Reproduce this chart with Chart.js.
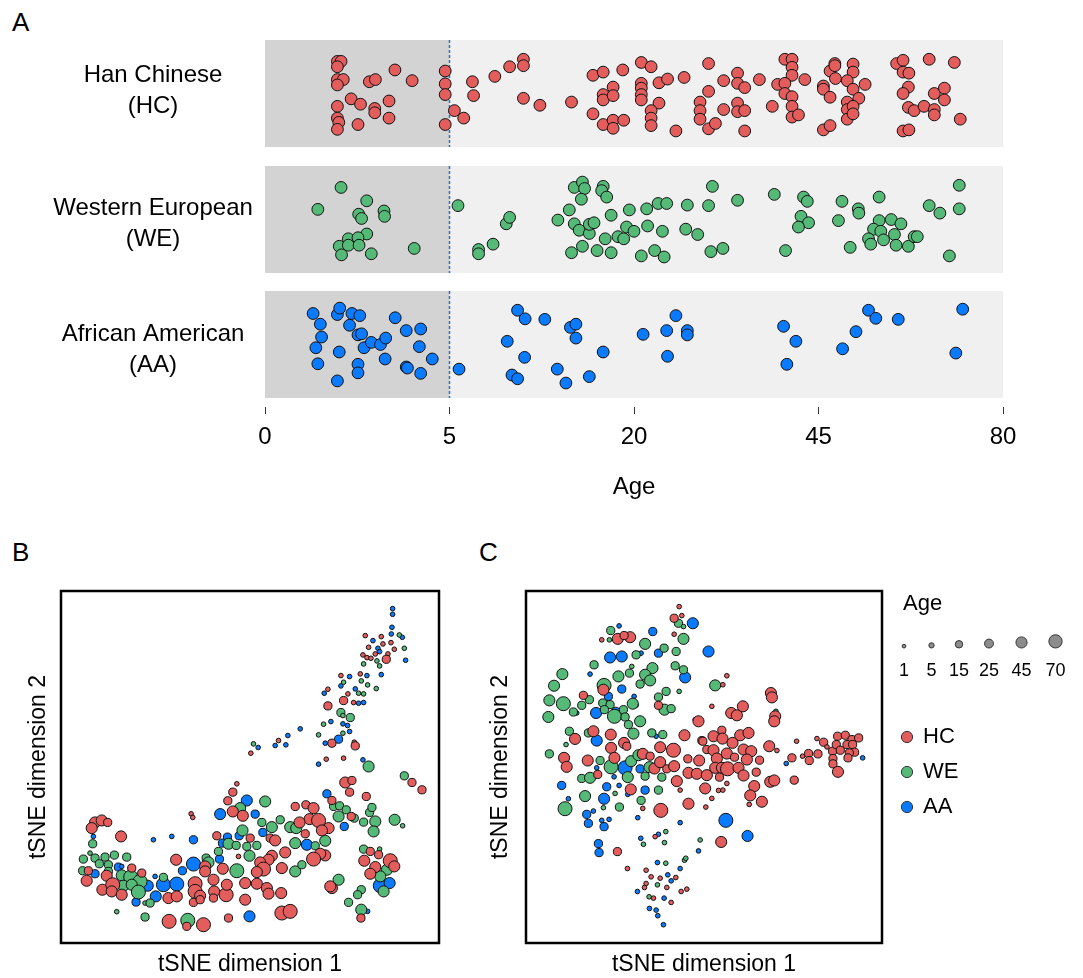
<!DOCTYPE html>
<html>
<head>
<meta charset="utf-8">
<script src="https://cdn.jsdelivr.net/npm/chart.js@4.4.0/dist/chart.umd.min.js"></script>
<style>
  body { margin: 0; background: #fff; width: 1083px; height: 978px; position: relative; overflow: hidden;
         font-family: "Liberation Sans", Arial, Helvetica, sans-serif; }
  .letter { position: absolute; font-size: 26px; line-height: 1; color: #000; }
  canvas { position: absolute; }
</style>
</head>
<body>
<div class="letter" style="left:12px;top:9px">A</div>
<div class="letter" style="left:12px;top:539px">B</div>
<div class="letter" style="left:479px;top:539px">C</div>
<canvas id="stripChart" width="1083" height="520" style="left:0;top:0"></canvas>
<canvas id="tsneB" width="460" height="418" style="left:0;top:560px"></canvas>
<canvas id="tsneC" width="613" height="418" style="left:470px;top:560px"></canvas>
<script>
const FONT = '"Liberation Sans", Arial, Helvetica, sans-serif';
const COLORS = { HC: '#E35D5D', WE: '#55BA78', AA: '#0A7AFF' };

// panel A: [age, vertical jitter within the row 0..1]
const ageTicks = [0, 5, 20, 45, 80];
const rowNames = [['Han Chinese', '(HC)'], ['Western European', '(WE)'], ['African American', '(AA)']];
const hcStrip = [
  [0.77,0.80],[0.85,0.80],[0.77,0.75],[0.77,0.63],[0.90,0.63],[0.77,0.58],[0.77,0.38],[0.77,0.27],[0.80,0.23],[0.77,0.165],
  [1.60,0.61],[1.79,0.63],[2.48,0.72],[3.18,0.62],[1.09,0.45],[1.34,0.40],[1.77,0.36],[1.77,0.32],[2.26,0.43],[2.26,0.27],[1.27,0.21],
  [4.77,0.71],[4.77,0.59],[4.77,0.49],[4.77,0.21],[5.27,0.34],[5.80,0.27],[6.32,0.61],[6.39,0.48],[7.76,0.66],[8.79,0.75],[9.81,0.82],[9.81,0.76],[9.81,0.455],[11.1,0.39],
  [13.8,0.42],[15.8,0.67],[16.8,0.70],[18.8,0.72],[17.8,0.56],[16.8,0.49],[16.8,0.44],[17.8,0.48],[15.8,0.31],[16.8,0.21],[17.8,0.25],[17.8,0.175],[18.9,0.25],
  [20.8,0.79],[21.9,0.75],[20.8,0.595],[20.8,0.55],[20.8,0.49],[20.8,0.44],[22.8,0.60],[23.8,0.635],[25.8,0.65],[22.8,0.41],[21.9,0.34],[21.9,0.27],[21.9,0.20],[24.8,0.15],
  [28.9,0.78],[28.9,0.52],[27.8,0.42],[27.8,0.34],[27.8,0.26],[28.9,0.17],[29.8,0.22],[30.9,0.62],[30.9,0.35],[32.8,0.69],[32.8,0.595],[33.8,0.555],[32.8,0.41],[32.8,0.33],[33.8,0.34],[33.8,0.15],
  [35.9,0.63],[37.8,0.38],[38.6,0.585],[39.7,0.82],[40.8,0.82],[40.8,0.745],[40.8,0.67],[39.7,0.595],[39.7,0.50],[40.8,0.47],[40.8,0.38],[40.8,0.28],[41.8,0.30],[42.8,0.63],
  [45.8,0.57],[45.8,0.54],[46.9,0.71],[46.9,0.465],[47.7,0.78],[47.7,0.76],[47.8,0.64],[45.8,0.16],[46.9,0.20],
  [50.8,0.775],[50.8,0.70],[49.8,0.62],[50.8,0.54],[52.9,0.585],[51.8,0.455],[49.8,0.42],[49.8,0.35],[49.8,0.26],[50.8,0.38],[50.8,0.31],
  [58.6,0.78],[59.8,0.81],[59.8,0.70],[60.9,0.69],[60.8,0.56],[59.8,0.50],[64.8,0.82],[69.8,0.79],[65.8,0.50],[67.8,0.55],[67.8,0.44],
  [60.8,0.37],[61.9,0.34],[63.8,0.38],[65.8,0.35],[65.8,0.30],[71.0,0.26],[59.8,0.15],[60.9,0.16]
];
const weStrip = [
  [0.85,0.80],[0.41,0.595],[1.52,0.675],[1.29,0.55],[1.37,0.51],[2.08,0.58],[2.10,0.53],[1.52,0.365],[1.02,0.32],[1.27,0.33],
  [0.81,0.25],[1.02,0.26],[1.30,0.26],[0.86,0.17],[1.66,0.18],[3.27,0.23],
  [5.47,0.63],[8.55,0.46],[8.79,0.52],[6.70,0.22],[6.70,0.18],[7.64,0.27],
  [12.6,0.495],[13.6,0.59],[14.05,0.80],[14.8,0.85],[15.0,0.79],[14.7,0.69],[14.05,0.46],[14.5,0.40],[15.45,0.37],[15.45,0.455],[15.9,0.47],
  [16.8,0.81],[16.65,0.77],[17.15,0.71],[17.6,0.54],[13.8,0.19],[14.8,0.25],[16.2,0.21],[17.6,0.19],[17.0,0.32],[18.3,0.34],[18.9,0.32],
  [19.2,0.43],[20.0,0.39],[19.5,0.59],[21.4,0.60],[22.7,0.65],[23.7,0.65],[21.5,0.44],[23.2,0.39],[20.8,0.16],[22.3,0.21],[23.4,0.15],
  [26.2,0.635],[28.9,0.63],[29.4,0.81],[32.8,0.68],[26.0,0.41],[27.5,0.36],[29.2,0.20],[30.8,0.23],
  [38.1,0.735],[39.8,0.21],[42.6,0.71],[43.2,0.67],[42.2,0.53],[43.4,0.47],[41.8,0.43],
  [48.9,0.67],[48.3,0.49],[51.7,0.60],[51.8,0.56],[55.4,0.71],[50.3,0.24],
  [55.4,0.49],[54.4,0.41],[57.6,0.50],[59.4,0.46],[55.7,0.39],[58.2,0.36],[53.5,0.32],[56.2,0.31],[53.9,0.27],[58.5,0.26],[60.8,0.25],[61.9,0.34],[62.5,0.34],
  [64.8,0.63],[66.9,0.56],[70.8,0.82],[70.8,0.60],[68.8,0.16]
];
const aaStrip = [
  [0.34,0.79],[0.45,0.69],[0.47,0.57],[0.38,0.47],[0.41,0.32],[0.77,0.78],[0.82,0.84],[1.11,0.79],[1.32,0.77],[1.05,0.68],
  [1.27,0.59],[1.37,0.60],[0.81,0.43],[1.44,0.47],[1.66,0.52],[1.96,0.50],[2.14,0.56],[2.49,0.75],[2.93,0.63],[3.56,0.645],
  [2.12,0.365],[1.27,0.315],[1.27,0.235],[0.77,0.16],[2.93,0.29],[2.98,0.28],[3.50,0.48],[4.11,0.365],[3.56,0.23],
  [5.53,0.27],[9.37,0.82],[9.94,0.74],[8.62,0.53],[9.90,0.38],[8.96,0.215],[9.37,0.18],
  [11.5,0.735],[13.7,0.66],[14.2,0.69],[14.2,0.56],[16.8,0.43],[12.55,0.27],[13.3,0.14],[15.45,0.20],
  [21.0,0.595],[23.7,0.63],[24.8,0.77],[26.2,0.63],[26.2,0.59],[23.8,0.39],
  [39.5,0.67],[41.4,0.53],[40.0,0.315],[49.0,0.46],[51.3,0.62],[53.5,0.82],[54.8,0.745],[58.9,0.735],[70.1,0.42],[71.5,0.83]
];

// panels B and C: [tSNE1, tSNE2, age]
const tsneB_HC = [
  [57.2,57.0,3],[53.0,47.8,3],[51.8,45.3,20],[50.3,42.7,20],[51.8,39.5,45],[54.8,38.2,45],[39.3,38.8,3],[39.8,37.7,3],[10.5,36.2,45],[12.5,36.8,45],
  [14.3,36.2,20],[9.5,34.5,45],[18.3,32.0,45],[47.0,32.2,20],[53.5,26.0,3],[34.8,25.0,45],[48.8,22.3,45],[8.5,21.7,20],[14.0,20.2,45],[21.5,22.5,20],
  [8.0,18.7,45],[24.5,21.0,20],[43.5,23.0,45],[43.5,21.5,45],[12.7,16.0,45],[15.8,17.5,80],[15.5,15.5,45],[18.5,14.5,45],[40.5,17.8,80],[40.5,15.5,80],
  [42.0,14.2,45],[46.0,19.0,45],[46.2,15.5,45],[49.8,14.5,80],[50.0,17.5,45],[55.5,18.0,45],[59.0,17.8,45],[32.5,13.5,45],[35.0,14.0,45],[40.0,12.2,20],
  [42.0,13.0,20],[46.0,13.5,20],[55.5,13.0,45],[32.7,6.5,80],[38.0,5.0,20],[43.0,5.5,80],[50.5,7.5,20],
  [91.5,92.3,3],[96.3,92.0,3],[99.2,90.2,3],[96.8,89.8,3],[92.5,88.8,3],[100.2,88.2,3],[90.8,86.5,3],[92.0,85.7,3],[93.2,85.5,3],[94.5,86.8,3],
  [98.3,86.8,3],[97.8,85.2,20],[84.2,80.3,3],[90.0,80.8,3],[80.3,76.2,3],[86.3,74.8,3],[85.0,72.8,20],[88.0,72.2,3],[80.3,71.2,20],[65.5,60.8,3],
  [81.5,60.0,20],[88.2,60.3,3],[88.5,59.2,20],[79.8,55.2,3],[85.0,55.5,3],[85.5,48.2,45],[87.5,48.8,20],[86.8,45.3,20],[105.5,48.2,20],[108.5,46.0,20],
  [91.8,44.0,20],[70.5,41.0,20],[73.7,41.5,20],[76.0,40.5,45],[74.8,37.2,45],[77.5,36.8,80],[71.8,36.2,45],[80.5,34.5,45],[78.5,33.8,45],[81.5,42.8,20],
  [87.3,38.0,20],[57.0,31.5,20],[63.0,31.5,20],[64.5,30.8,45],[79.5,26.3,45],[78.0,26.8,45],[76.0,25.2,80],[73.5,32.8,20],[67.5,27.2,45],[63.5,26.2,45],
  [62.5,25.0,45],[60.0,24.2,45],[61.0,22.2,80],[66.5,22.5,45],[59.0,21.3,45],[62.0,16.5,45],[62.5,14.8,45],[66.3,15.0,45],[93.0,27.5,20],[91.2,24.7,45],
  [95.5,26.5,20],[99.0,24.7,80],[100.2,23.0,45],[94.5,22.8,45],[93.0,20.8,45],[81.5,16.5,45],[81.0,17.0,45],[90.2,7.5,20],[66.5,9.0,80],[69.0,9.5,80]
];
const tsneB_WE = [
  [58.0,59.8,3],[54.0,40.5,45],[9.8,29.8,20],[50.5,29.8,45],[52.8,29.3,20],[54.7,33.8,45],[56.0,29.0,20],[59.0,29.3,20],[47.5,27.5,20],[56.8,26.2,45],
  [43.8,25.5,20],[44.5,24.2,45],[7.0,25.2,20],[9.0,27.0,3],[10.5,25.5,20],[13.5,25.8,20],[16.3,26.4,20],[20.0,25.8,20],[11.8,23.8,20],[14.5,23.5,20],
  [6.8,21.7,20],[14.5,21.5,20],[18.5,20.3,45],[21.2,19.8,80],[24.0,18.5,80],[31.0,19.7,20],[19.0,17.2,45],[21.5,17.5,45],[23.5,15.3,80],[53.0,21.7,80],
  [25.5,12.0,3],[27.0,12.0,20],[17.0,9.4,3],[25.5,7.8,20],[38.3,6.8,80],
  [101.7,92.5,3],[103.2,88.5,3],[95.0,84.7,3],[95.8,83.2,3],[91.0,83.8,3],[85.0,78.3,3],[90.3,78.7,3],[92.2,77.5,3],[94.8,76.4,3],[89.5,75.0,3],
  [91.0,74.8,3],[84.2,69.2,20],[84.8,68.3,3],[87.0,67.7,20],[79.0,65.7,3],[84.8,63.0,3],[77.5,62.5,3],[92.5,53.0,45],[103.2,50.2,20],[61.5,42.5,45],
  [60.5,36.2,20],[63.5,34.8,45],[66.0,37.0,20],[69.0,34.8,45],[70.8,34.5,45],[82.0,41.0,20],[83.8,41.2,20],[85.8,40.0,20],[83.5,38.0,45],[88.2,37.5,20],
  [91.0,36.3,20],[94.5,36.5,45],[92.8,39.2,20],[93.5,40.7,20],[100.3,37.0,45],[102.7,35.2,3],[94.0,33.5,45],[70.5,30.0,45],[76.5,29.2,20],[79.5,30.7,45],
  [70.5,21.5,45],[72.5,23.5,20],[91.0,28.2,20],[95.8,28.2,3],[98.0,22.0,45],[96.0,20.0,45],[97.0,15.5,45],[83.5,19.0,45],[90.3,16.0,20],[89.2,14.5,20],
  [86.5,12.2,20],[90.3,10.0,45]
];
const tsneB_AA = [
  [59.4,58.7,3],[56.0,42.8,45],[48.0,38.7,45],[58.5,38.7,20],[10.0,32.0,3],[28.0,31.0,3],[33.5,32.0,3],[40.0,31.0,20],[50.2,31.8,20],[48.7,30.0,20],
  [53.7,32.2,20],[47.8,25.2,20],[40.0,23.7,80],[10.5,20.8,20],[17.5,22.8,20],[18.5,23.0,3],[28.5,20.0,3],[36.7,21.7,20],[26.3,17.2,45],[31.0,17.5,80],
  [35.0,17.7,80],[22.8,12.3,20],[28.7,14.0,45],[56.8,8.0,45],
  [99.7,100.4,3],[99.7,98.7,3],[99.5,94.8,3],[99.3,92.8,3],[102.6,91.8,3],[93.8,90.8,3],[95.3,88.5,3],[95.8,87.5,3],[103.6,84.9,3],[86.8,80.0,3],
  [92.0,80.3,3],[96.3,80.6,3],[84.2,77.2,3],[79.2,75.0,3],[88.5,76.3,3],[89.5,72.0,3],[91.0,72.2,3],[81.2,66.5,3],[84.8,65.8,3],[86.2,65.3,3],
  [86.8,63.5,3],[72.0,64.3,3],[68.3,62.3,3],[64.5,59.3,3],[67.7,59.5,3],[83.5,61.2,20],[79.5,60.0,3],[77.5,53.7,3],[90.8,55.0,3],[80.0,44.8,20],
  [60.8,33.2,20],[85.2,35.0,20],[74.0,29.5,45],[96.0,17.2,80],[98.8,18.0,45],[92.2,9.5,3]
];
const tsneC_HC = [
  [47.7,101.5,3],[46.2,98.0,20],[48.5,98.8,3],[24.5,91.5,3],[29.3,91.8,45],[33.0,92.3,45],[31.2,92.8,20],[46.2,93.2,3],[25.0,76.5,45],[19.0,74.8,20],
  [41.5,71.8,20],[53.5,67.0,45],[16.5,61.7,45],[22.0,64.0,45],[27.2,63.0,45],[31.2,60.5,45],[49.3,62.8,45],[54.5,61.2,20],[27.3,59.0,45],[32.0,59.5,20],
  [42.0,59.2,45],[46.0,58.3,80],[56.0,58.5,20],[13.2,56.0,45],[14.0,53.3,45],[20.3,55.2,45],[28.3,56.0,45],[36.8,57.2,45],[39.0,56.5,20],[40.3,52.8,45],
  [42.0,54.7,45],[44.0,52.7,20],[46.2,53.5,45],[50.3,55.7,20],[53.7,55.2,45],[50.5,51.5,45],[53.0,51.2,45],[56.0,50.8,45],[23.3,51.0,20],[47.0,49.0,45],
  [33.2,46.5,45],[48.0,46.3,3],[55.5,46.8,45],[36.8,40.8,3],[42.2,40.2,80],[50.5,42.2,45],[55.7,41.2,3],[29.2,27.8,20],[40.5,32.3,3],[32.2,22.7,3],
  [37.8,22.2,3],[39.3,20.2,3],[42.0,19.8,3],[46.7,20.0,3],[37.8,18.2,3],[44.0,17.0,3],[37.3,17.0,3],[48.3,15.8,3],[50.0,16.5,3],[40.0,13.8,3],[45.3,12.5,3],
  [62.0,80.7,3],[60.8,78.0,3],[75.2,75.5,45],[75.5,74.2,45],[57.5,71.5,3],[63.3,69.5,45],[65.0,68.8,45],[66.8,71.5,45],[76.5,68.5,45],[76.2,67.0,45],
  [58.0,62.5,45],[60.5,64.3,20],[60.7,61.8,45],[54.8,61.0,20],[63.7,60.5,45],[66.0,62.8,45],[68.5,63.5,45],[58.0,58.3,45],[62.0,57.3,45],[59.0,55.8,45],
  [64.3,56.2,20],[67.0,58.5,45],[69.3,58.0,45],[68.0,55.5,45],[71.8,55.3,20],[74.7,59.5,45],[77.0,58.2,3],[58.5,53.0,45],[60.5,53.0,45],[62.2,52.7,80],
  [65.5,53.0,45],[67.0,50.7,45],[70.8,51.7,20],[59.8,50.2,20],[62.0,48.3,3],[70.2,47.5,45],[59.5,46.2,3],[60.8,46.3,3],[57.5,43.8,3],[69.0,44.7,45],
  [72.5,42.8,45],[68.7,42.0,3],[75.0,48.8,45],[76.2,49.2,45],[60.3,30.7,45],[81.5,56.0,20],[82.9,61.0,3],[82.2,49.3,20],[84.7,56.5,3],[86.5,57.3,20],
  [86.7,55.2,20],[89.3,57.2,20],[89.0,61.8,3],[91.0,60.7,20],[92.0,59.3,3],[93.7,58.0,20],[95.2,62.5,20],[97.5,62.8,20],[99.5,61.5,20],[101.5,62.0,20],
  [94.8,60.0,20],[96.0,58.3,20],[98.0,60.0,20],[99.7,60.0,20],[100.3,57.7,20],[98.7,57.5,20],[98.3,56.0,20],[93.8,55.8,20],[93.8,54.2,20],[95.3,51.8,45]
];
const tsneC_WE = [
  [47.5,96.5,20],[49.0,95.5,3],[27.2,94.3,20],[26.8,91.5,3],[49.0,91.8,45],[37.5,90.3,45],[43.2,89.0,20],[34.8,87.0,20],[46.8,88.0,20],[22.2,84.0,20],
  [33.5,83.5,3],[39.7,83.0,45],[46.5,83.7,20],[49.0,82.5,20],[12.7,81.2,45],[29.5,80.5,45],[32.8,81.5,20],[37.5,81.0,45],[39.0,79.3,45],[10.2,77.7,45],
  [25.2,77.8,80],[36.0,78.2,20],[43.8,76.0,20],[47.7,76.0,3],[41.5,74.3,20],[8.8,73.3,45],[13.0,72.3,80],[18.5,71.8,20],[20.8,73.5,20],[24.8,72.5,20],
  [27.0,72.0,20],[33.8,72.3,45],[43.3,70.5,45],[45.3,70.8,20],[8.5,68.3,45],[16.0,69.8,20],[25.3,70.5,20],[28.3,68.5,80],[31.0,70.5,20],[31.5,68.3,20],
  [32.5,66.0,20],[36.0,67.0,45],[52.5,67.5,3],[14.8,64.0,20],[20.5,63.5,20],[34.0,63.3,45],[39.5,63.5,20],[42.8,63.0,20],[13.8,60.0,3],[8.8,57.2,20],
  [24.0,55.2,20],[27.3,53.3,80],[33.3,55.0,45],[35.5,56.8,45],[38.8,53.2,45],[18.5,49.8,20],[21.0,50.0,45],[32.3,50.2,45],[37.5,50.5,20],[42.5,50.2,20],
  [19.5,44.5,45],[28.5,45.3,3],[41.5,46.3,20],[13.5,40.7,80],[25.0,41.0,3],[29.8,41.2,20],[36.3,43.2,20],[37.0,30.0,3],[43.7,33.8,3],[43.3,30.5,3],
  [54.0,31.3,3],[49.3,25.2,3],[49.7,25.8,3],[43.7,24.3,3],[41.2,17.8,3],[38.7,14.2,3],[58.5,77.8,45],[76.7,70.0,3]
];
const tsneC_AA = [
  [51.8,96.5,45],[29.7,95.7,3],[39.8,94.0,20],[36.3,87.5,3],[41.5,87.5,20],[27.0,86.2,45],[30.5,86.5,45],[56.5,88.0,45],[49.5,80.2,45],[21.0,81.2,3],
  [30.5,76.7,20],[26.5,74.5,20],[34.2,74.5,3],[34.8,71.8,3],[17.0,69.5,3],[22.8,69.5,45],[28.7,70.0,20],[40.8,62.5,3],[23.0,61.2,45],[31.5,53.0,80],
  [36.0,52.7,20],[23.0,53.0,3],[28.2,50.3,3],[12.5,47.7,20],[26.0,47.3,20],[29.7,47.7,3],[37.5,46.3,20],[25.2,43.7,45],[32.3,45.0,3],[14.5,43.7,3],
  [20.0,39.0,20],[22.0,40.0,3],[20.5,36.3,20],[24.5,37.2,3],[25.2,35.3,20],[26.7,37.5,3],[35.3,38.0,3],[48.0,36.5,3],[23.5,30.2,20],[23.7,27.5,20],
  [36.2,31.8,3],[41.5,33.0,3],[53.5,28.0,3],[41.2,24.5,3],[48.0,22.7,3],[44.3,20.8,3],[45.3,19.0,3],[35.2,15.8,3],[43.2,13.8,3],[38.8,10.7,3],
  [40.8,10.2,3],[41.3,8.5,3],[43.0,5.8,3],[61.7,37.2,80],[68.2,32.5,45],[79.8,54.3,3],[102.7,56.0,3]
];
const legendAges = [1, 5, 15, 25, 45, 70];
const groupNames = ['HC', 'WE', 'AA'];

const radiusForAge = age => 1.2 + 0.65 * Math.sqrt(age);

// ---- panel A ----
const rowBase = [2.346, 1.168, 0];   // bottom of each row band on the y scale
const stripPoints = (arr, row) => arr.map(([age, j]) => ({ x: Math.sqrt(age), y: rowBase[row] + j }));

const bandPlugin = {
  id: 'bands',
  beforeDatasetsDraw(chart) {
    const { ctx, scales: { x, y } } = chart;
    const x0 = x.getPixelForValue(0), x5 = x.getPixelForValue(Math.sqrt(5)), x80 = x.getPixelForValue(Math.sqrt(80));
    const labelY = [[75, 106], [208, 239], [334, 365]];
    ctx.save();
    rowBase.forEach((b, i) => {
      const top = y.getPixelForValue(b + 1), bot = y.getPixelForValue(b);
      ctx.fillStyle = '#F0F0F0';
      ctx.fillRect(x0, top, x80 - x0, bot - top);
      ctx.fillStyle = '#D3D3D3';
      ctx.fillRect(x0, top, x5 - x0, bot - top);
      ctx.strokeStyle = '#2F6DC0';
      ctx.lineWidth = 1.5;
      ctx.setLineDash([3, 2]);
      ctx.beginPath(); ctx.moveTo(x5, top); ctx.lineTo(x5, bot); ctx.stroke();
      ctx.setLineDash([]);
      ctx.fillStyle = '#000';
      ctx.font = '24px ' + FONT;
      ctx.textAlign = 'center';
      ctx.textBaseline = 'middle';
      ctx.fillText(rowNames[i][0], 153, labelY[i][0]);
      ctx.fillText(rowNames[i][1], 153, labelY[i][1]);
    });
    ctx.restore();
  }
};

new Chart(document.getElementById('stripChart'), {
  type: 'scatter',
  data: {
    datasets: [
      { label: 'HC', data: stripPoints(hcStrip, 0), backgroundColor: COLORS.HC },
      { label: 'WE', data: stripPoints(weStrip, 1), backgroundColor: COLORS.WE },
      { label: 'AA', data: stripPoints(aaStrip, 2), backgroundColor: COLORS.AA },
    ],
  },
  options: {
    responsive: false,
    animation: false,
    events: [],
    layout: { padding: { left: 265, right: 80, top: 40, bottom: 0 } },
    plugins: { legend: { display: false }, tooltip: { enabled: false } },
    elements: { point: { radius: 5.9, borderWidth: 1, borderColor: '#111' } },
    scales: {
      x: {
        type: 'linear', min: 0, max: Math.sqrt(80),
        afterBuildTicks: s => { s.ticks = ageTicks.map(a => ({ value: Math.sqrt(a) })); },
        afterFit: s => { s.height = 520 - 407; },
        ticks: { callback: v => Math.round(v * v), color: '#000', font: { family: FONT, size: 24 }, padding: 9, maxRotation: 0, autoSkip: false },
        grid: { drawOnChartArea: false, drawTicks: true, tickLength: 7, color: '#333', lineWidth: 1 },
        border: { display: false },
        title: { display: true, text: 'Age', color: '#000', font: { family: FONT, size: 24 }, padding: { top: 0, bottom: 18 } },
      },
      y: { display: false, min: -0.084, max: 3.346 },
    },
  },
  plugins: [bandPlugin],
});

// ---- panels B and C ----
const framePlugin = {
  id: 'frame',
  afterDatasetsDraw(chart) {
    const { ctx, chartArea: a } = chart;
    ctx.save();
    ctx.lineWidth = 2.5;
    ctx.strokeStyle = '#000';
    ctx.strokeRect(a.left, a.top, a.right - a.left, a.bottom - a.top);
    ctx.restore();
  }
};

const ageLegendPlugin = {
  id: 'ageLegend',
  afterDraw(chart) {
    const ctx = chart.ctx;
    const dotX = [434, 461.5, 489, 519, 551.5, 585.5];
    ctx.save();
    ctx.fillStyle = '#000';
    ctx.font = '22px ' + FONT;
    ctx.textAlign = 'left';
    ctx.textBaseline = 'middle';
    ctx.fillText('Age', 433, 44);
    legendAges.forEach((a, i) => {
      const r = radiusForAge(a);
      ctx.beginPath();
      ctx.arc(dotX[i], 88 - r, r, 0, Math.PI * 2);
      ctx.fillStyle = '#8C8C8C';
      ctx.fill();
      ctx.lineWidth = 1;
      ctx.strokeStyle = '#333';
      ctx.stroke();
      ctx.fillStyle = '#000';
      ctx.font = '18px ' + FONT;
      ctx.textAlign = 'center';
      ctx.fillText(String(a), dotX[i], 111);
    });
    groupNames.forEach((g, i) => {
      const cy = 177 + 35 * i;
      ctx.beginPath();
      ctx.arc(437, cy, 5.6, 0, Math.PI * 2);
      ctx.fillStyle = COLORS[g];
      ctx.fill();
      ctx.lineWidth = 1;
      ctx.strokeStyle = '#333';
      ctx.stroke();
      ctx.fillStyle = '#000';
      ctx.font = '22px ' + FONT;
      ctx.textAlign = 'left';
      ctx.fillText(g, 453, cy);
    });
    ctx.restore();
  }
};

function tsneChart(id, sets, xRange, yRange, area, yTitlePad, extra) {
  return new Chart(document.getElementById(id), {
    type: 'scatter',
    data: {
      datasets: sets.map(([name, pts]) => ({
        label: name,
        data: pts.map(([x, y, age]) => ({ x, y, age })),
        backgroundColor: COLORS[name],
        borderColor: '#111',
        borderWidth: 1,
        pointRadius: c => (c.raw ? radiusForAge(c.raw.age) : 3),
      })),
    },
    options: {
      responsive: false,
      animation: false,
      events: [],
      layout: { padding: { top: area.top, right: area.right, left: 0, bottom: 0 } },
      plugins: { legend: { display: false }, tooltip: { enabled: false } },
      scales: {
        x: {
          type: 'linear', min: xRange[0], max: xRange[1],
          ticks: { display: false }, grid: { display: false }, border: { display: false },
          afterFit: s => { s.height = 35; },
          title: { display: true, text: 'tSNE dimension 1', color: '#000', font: { family: FONT, size: 23 }, padding: 0 },
        },
        y: {
          type: 'linear', min: yRange[0], max: yRange[1],
          ticks: { display: false }, grid: { display: false }, border: { display: false },
          afterFit: s => { s.width = area.left; },
          title: { display: true, text: 'tSNE dimension 2', color: '#000', font: { family: FONT, size: 23 }, padding: { top: yTitlePad, bottom: 0 } },
        },
      },
    },
    plugins: [framePlugin, ...extra],
  });
}

tsneChart('tsneB', [['HC', tsneB_HC], ['WE', tsneB_WE], ['AA', tsneB_AA]],
  [0.3, 113.6], [0, 105.7], { left: 61, right: 21, top: 31 }, 25, []);
tsneChart('tsneC', [['HC', tsneC_HC], ['WE', tsneC_WE], ['AA', tsneC_AA]],
  [1.8, 108.5], [0.3, 106.2], { left: 56, right: 201, top: 31 }, 17, [ageLegendPlugin]);
</script>
</body>
</html>
